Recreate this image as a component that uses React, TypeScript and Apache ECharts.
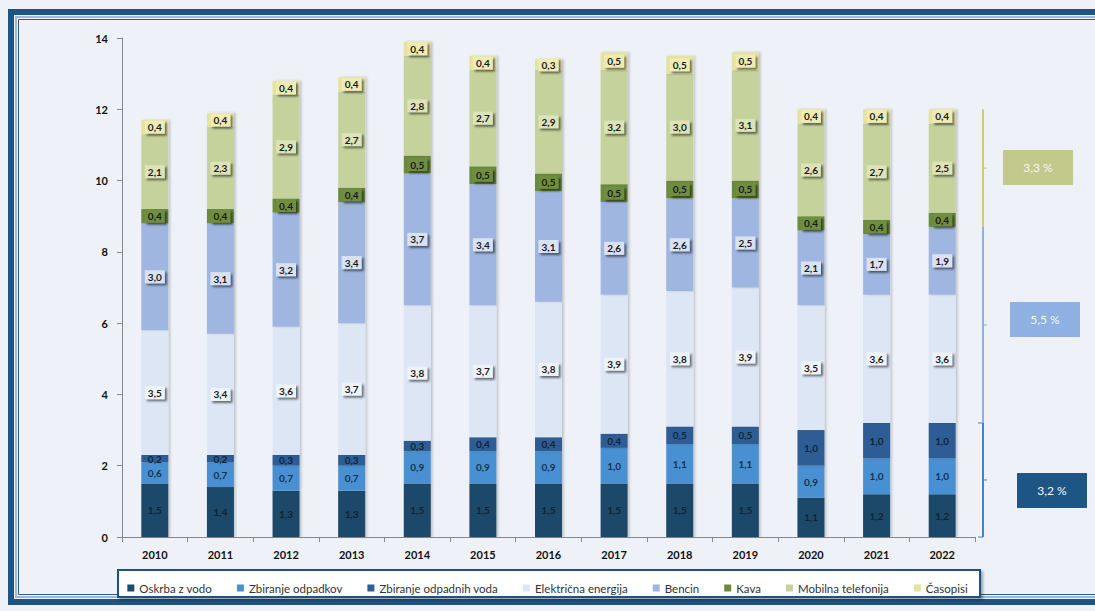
import React, { useEffect, useRef } from "react";
import * as echarts from "echarts";

const years = ["2010", "2011", "2012", "2013", "2014", "2015", "2016", "2017", "2018", "2019", "2020", "2021", "2022"];
const oskrba = [1.5, 1.4, 1.3, 1.3, 1.5, 1.5, 1.5, 1.5, 1.5, 1.5, 1.1, 1.2, 1.2];
const odpadki = [0.6, 0.7, 0.7, 0.7, 0.9, 0.9, 0.9, 1.0, 1.1, 1.1, 0.9, 1.0, 1.0];
const odpadneVode = [0.2, 0.2, 0.3, 0.3, 0.3, 0.4, 0.4, 0.4, 0.5, 0.5, 1.0, 1.0, 1.0];
const elektrika = [3.5, 3.4, 3.6, 3.7, 3.8, 3.7, 3.8, 3.9, 3.8, 3.9, 3.5, 3.6, 3.6];
const bencin = [3.0, 3.1, 3.2, 3.4, 3.7, 3.4, 3.1, 2.6, 2.6, 2.5, 2.1, 1.7, 1.9];
const kava = [0.4, 0.4, 0.4, 0.4, 0.5, 0.5, 0.5, 0.5, 0.5, 0.5, 0.4, 0.4, 0.4];
const mobilna = [2.1, 2.3, 2.9, 2.7, 2.8, 2.7, 2.9, 3.2, 3.0, 3.1, 2.6, 2.7, 2.5];
const casopisi = [0.4, 0.4, 0.4, 0.4, 0.4, 0.4, 0.3, 0.5, 0.5, 0.5, 0.4, 0.4, 0.4];

const seriesNames = ["Oskrba z vodo", "Zbiranje odpadkov", "Zbiranje odpadnih voda", "Električna energija", "Bencin", "Kava", "Mobilna telefonija", "Časopisi"];
const groupShares = ["3,2 %", "5,5 %", "3,3 %"];

const FONT = "Lato, 'Open Sans', sans-serif";

export default function App() {
  const ref = useRef<HTMLDivElement>(null);
  useEffect(() => {
    document.body.style.margin = "0";
    const chart = echarts.init(ref.current!, null, { renderer: "svg" });
    const fmt = (p: any) => Number(p.value).toFixed(1).replace(".", ",");
    const boxLabel = (bg: string) => ({
      show: true,
      position: "inside",
      formatter: fmt,
      fontFamily: FONT,
      fontWeight: "bold",
      fontSize: 10,
      color: "#1a1a1a",
      backgroundColor: bg,
      padding: [2, 3, 1, 3],
      shadowColor: "rgba(0,0,0,0.55)",
      shadowOffsetX: 2,
      shadowOffsetY: 2,
      shadowBlur: 2,
    });
    const plainLabel = (color: string) => ({
      show: true,
      position: "inside",
      formatter: fmt,
      fontFamily: FONT,
      fontWeight: "bold",
      fontSize: 10,
      color,
    });
    const datas = [oskrba, odpadki, odpadneVode, elektrika, bencin, kava, mobilna, casopisi];
    const colors = ["#1b4a6b", "#4a90d2", "#2f5d95", "#dce6f5", "#9fb7e0", "#6a8b3c", "#c6d29c", "#e6e3a2"];
    const labels = [
      plainLabel("#0f2436"),
      plainLabel("#16324f"),
      plainLabel("#0f2436"),
      boxLabel("#eef2f9"),
      boxLabel("#d9e2f3"),
      boxLabel("#6f8e40"),
      boxLabel("#dde3b8"),
      boxLabel("#eeebb5"),
    ];
    const series = datas.map((d, i) => ({
      name: seriesNames[i],
      type: "bar",
      stack: "total",
      barWidth: 27,
      data: d,
      itemStyle: { color: colors[i], shadowColor: "rgba(0,0,0,0.18)", shadowOffsetX: 2, shadowBlur: 2 },
      label: labels[i],
    }));
    chart.setOption({
      animation: false,
      backgroundColor: "#eef1f7",
      color: colors,
      grid: { left: 122, right: 120, top: 38, bottom: 74 },
      legend: {
        data: seriesNames,
        left: "center",
        top: 577,
        icon: "rect",
        itemWidth: 7,
        itemHeight: 7,
        itemGap: 25,
        textStyle: { fontFamily: FONT, fontSize: 11.5, color: "#333" },
      },
      xAxis: {
        type: "category",
        data: years,
        axisLine: { lineStyle: { color: "#888" } },
        axisTick: { show: true, lineStyle: { color: "#888" } },
        axisLabel: { fontFamily: FONT, fontWeight: "bold", fontSize: 11, color: "#111", margin: 12 },
      },
      yAxis: {
        type: "value",
        min: 0,
        max: 14,
        interval: 2,
        splitLine: { show: false },
        axisLine: { show: true, lineStyle: { color: "#888" } },
        axisTick: { show: true, lineStyle: { color: "#888" } },
        axisLabel: { fontFamily: FONT, fontWeight: "bold", fontSize: 11, color: "#111", margin: 14 },
      },
      series,
    });

    const last = years.length - 1;
    const b1 = oskrba[last] + odpadki[last] + odpadneVode[last];
    const b2 = b1 + elektrika[last] + bencin[last];
    const b3 = b2 + kava[last] + mobilna[last] + casopisi[last];
    const py = (v: number) => chart.convertToPixel({ yAxisIndex: 0 }, v) as number;
    const y0 = py(0), y1 = py(b1), y2 = py(b2), y3 = py(b3);
    const lx = 983;
    const segs = [
      { a: y0, b: y1, color: "#3f86c8", box: "#1d5685", txt: groupShares[0], bx: 1017, by: 473 },
      { a: y1, b: y2, color: "#8fb0e2", box: "#8fb0e2", txt: groupShares[1], bx: 1010, by: 302 },
      { a: y2, b: y3, color: "#c9cd7a", box: "#c3c98a", txt: groupShares[2], bx: 1003, by: 150 },
    ];
    const ann: any[] = [];
    segs.forEach((s, i) => {
      ann.push({ type: "line", shape: { x1: lx, y1: s.a, x2: lx, y2: s.b }, style: { stroke: s.color, lineWidth: 2 } });
      ann.push({ type: "line", shape: { x1: lx, y1: (s.a + s.b) / 2, x2: lx + 4, y2: (s.a + s.b) / 2 }, style: { stroke: s.color, lineWidth: 1 } });
      if (i === 0) {
        ann.push({ type: "line", shape: { x1: lx - 5, y1: s.a, x2: lx, y2: s.a }, style: { stroke: s.color, lineWidth: 1 } });
        ann.push({ type: "line", shape: { x1: lx - 5, y1: s.b, x2: lx, y2: s.b }, style: { stroke: s.color, lineWidth: 1 } });
      }
      ann.push({ type: "rect", shape: { x: s.bx, y: s.by, width: 70, height: 35 }, style: { fill: s.box } });
      ann.push({
        type: "text",
        x: s.bx + 35,
        y: s.by + 17.5,
        style: { text: s.txt, fill: "#f4f6fb", font: `12px ${FONT}`, align: "center", verticalAlign: "middle" },
      });
    });

    chart.setOption({
      graphic: [
        { type: "rect", z: 0, shape: { x: 11, y: 12, width: 1100, height: 590 }, style: { fill: "none", stroke: "#1f5382", lineWidth: 6 } },
        { type: "rect", z: 0, shape: { x: 16, y: 17, width: 1090, height: 580 }, style: { fill: "none", stroke: "#9dbbd8", lineWidth: 2 } },
        { type: "rect", z: 0, shape: { x: 18.5, y: 19.5, width: 1085, height: 575 }, style: { fill: "none", stroke: "#2d5d8c", lineWidth: 1 } },
        { type: "rect", z: 0, shape: { x: 118, y: 570, width: 862, height: 27 }, style: { fill: "#ffffff", stroke: "#1f5382", lineWidth: 2, shadowColor: "rgba(0,0,0,0.35)", shadowOffsetX: 2, shadowOffsetY: 2, shadowBlur: 3 } },
        ...ann,
      ],
    });
    return () => chart.dispose();
  }, []);
  return <div ref={ref} style={{ width: 1095, height: 611 }} />;
}
